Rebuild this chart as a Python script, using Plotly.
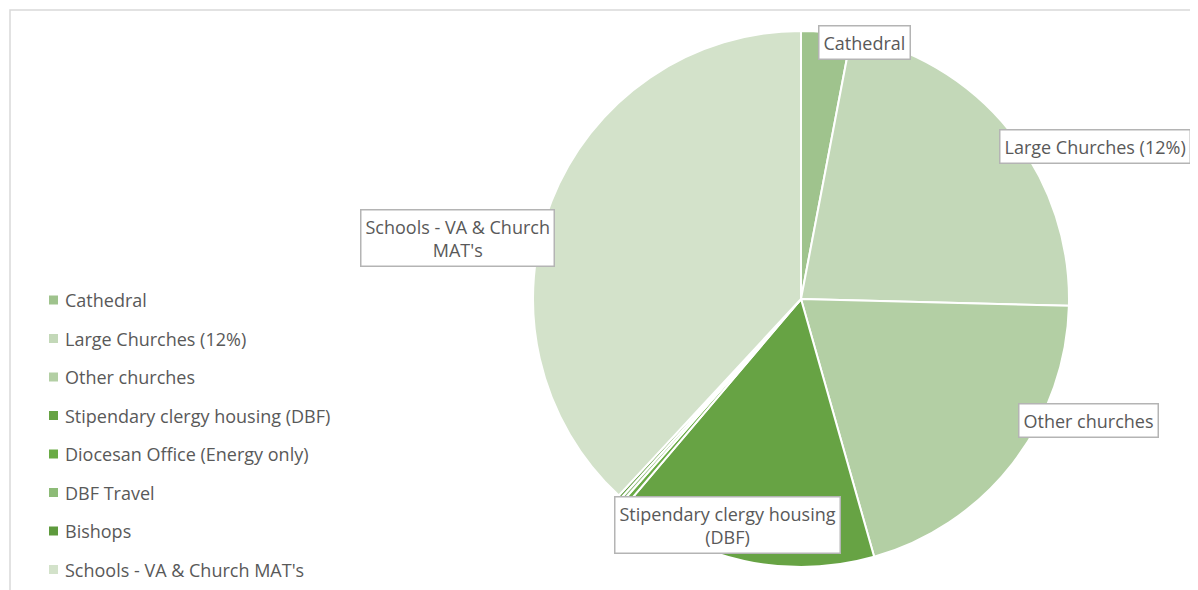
import plotly.graph_objects as go

labels = ["Cathedral", "Large Churches (12%)", "Other churches",
          "Stipendary clergy housing (DBF)", "Diocesan Office (Energy only)",
          "DBF Travel", "Bishops", "Schools - VA & Church MAT's"]
values = [3.0, 22.4, 20.2, 15.6, 0.3, 0.2, 0.2, 38.1]
colors = ["#9fc38d", "#c3d8b8", "#b3cfa4", "#67a344", "#6aab45",
          "#8dbb77", "#5e9a3d", "#d3e2ca"]

# data-label texts and their box centres (screen px)
label_texts = ["Cathedral", "Large Churches (12%)", "Schools - VA & Church<br>MAT's",
               "Other churches", "Stipendary clergy housing<br>(DBF)"]
label_pos = [(864, 43), (1095, 147), (457, 238), (1088, 420), (727, 525)]

W, H = 1198, 590
OFF = 8  # page body margin offset
FONT = "Open Sans"
TXT = "#595959"
FS = 18


def fx(px):
    return (px - OFF) / W


def fy(py):
    return 1 - (py - OFF) / H


CX, CY, R = 801, 299, 268

fig = go.Figure(go.Pie(
    labels=labels, values=values, sort=False, direction="clockwise", rotation=0,
    marker=dict(colors=colors, line=dict(color="white", width=2)),
    textinfo="none", showlegend=False,
    domain=dict(x=[fx(CX - R), fx(CX + R)], y=[fy(CY + R), fy(CY - R)]),
))

annotations = []
for t, (px, py) in zip(label_texts, label_pos):
    annotations.append(dict(
        text=t, x=fx(px), y=fy(py), xref="paper", yref="paper",
        xanchor="center", yanchor="middle", showarrow=False,
        font=dict(family=FONT, size=FS, color=TXT),
        bgcolor="white", bordercolor="#b4b4b4", borderwidth=1.5, borderpad=4,
        align="center",
    ))

shapes = [dict(type="rect", xref="paper", yref="paper",
               x0=fx(10), x1=1.02, y0=-0.03, y1=fy(10),
               line=dict(color="#d9d9d9", width=1.5), fillcolor="rgba(0,0,0,0)")]

# manual legend (Excel-style spacing)
leg_top, leg_step = 300, 38.5
for i, (lab, col) in enumerate(zip(labels, colors)):
    yc = leg_top + i * leg_step
    shapes.append(dict(type="rect", xref="paper", yref="paper",
                       x0=fx(49), x1=fx(58), y0=fy(yc + 4.5), y1=fy(yc - 4.5),
                       line=dict(width=0), fillcolor=col))
    annotations.append(dict(
        text=lab, x=fx(63), y=fy(yc), xref="paper", yref="paper",
        xanchor="left", yanchor="middle", showarrow=False,
        font=dict(family=FONT, size=FS, color=TXT),
    ))

fig.update_layout(
    width=W, height=H, margin=dict(l=0, r=0, t=0, b=0),
    paper_bgcolor="white", plot_bgcolor="white",
    annotations=annotations, shapes=shapes,
)

fig.write_html("out.html")
